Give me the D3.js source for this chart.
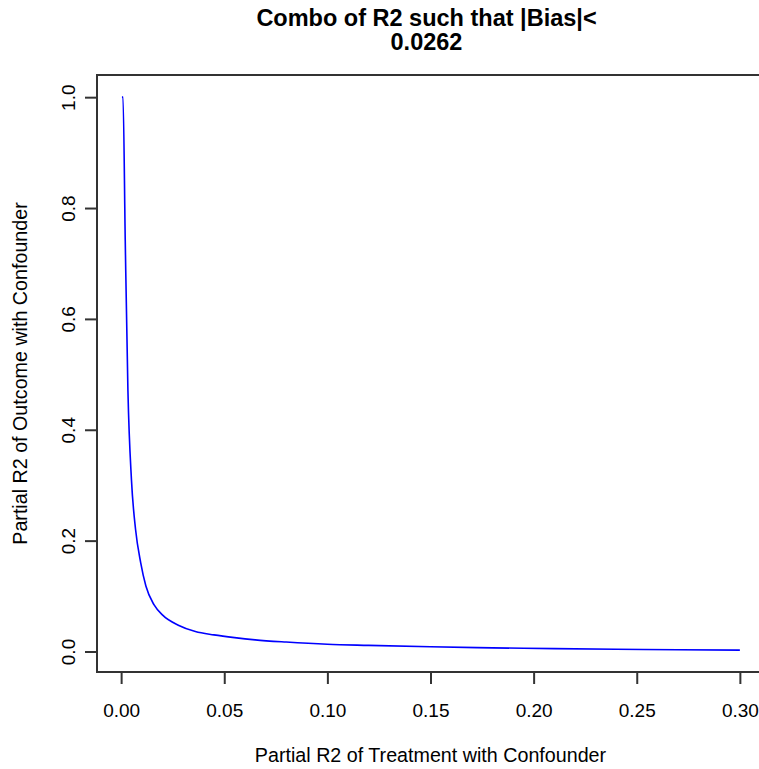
<!DOCTYPE html>
<html>
<head>
<meta charset="utf-8">
<script src="https://cdn.jsdelivr.net/npm/d3@7"></script>
<style>
  body { margin: 0; background: #fff; }
  svg { display: block; font-family: "Liberation Sans", Arial, Helvetica, sans-serif; }
</style>
</head>
<body>
<div id="chart"></div>
<script>
// values
const r2Treatment = [0.0004, 0.0009, 0.002, 0.0033, 0.005, 0.007, 0.0095, 0.012, 0.016, 0.02, 0.028,
    0.036, 0.045, 0.055, 0.065, 0.08, 0.10, 0.12, 0.15, 0.18, 0.21, 0.24, 0.27, 0.30];
const r2Outcome = [1.0, 1.0, 0.74, 0.47, 0.31, 0.22, 0.16, 0.118, 0.084, 0.066, 0.047,
    0.036, 0.030, 0.025, 0.021, 0.017, 0.013, 0.011, 0.0085, 0.0066, 0.0051, 0.0040, 0.0031, 0.0024];
const xTicks = [0.00, 0.05, 0.10, 0.15, 0.20, 0.25, 0.30];
const yTicks = [0.0, 0.2, 0.4, 0.6, 0.8, 1.0];
const titleLines = ["Combo of R2 such that |Bias|<", "0.0262"];
const xLabel = "Partial R2 of Treatment with Confounder";
const yLabel = "Partial R2 of Outcome with Confounder";

const width = 759, height = 769;
const box = { left: 97, right: 764, top: 75, bottom: 672 };

const x = d3.scaleLinear().domain([-0.0117, 0.3117]).range([box.left, box.right]);
const y = d3.scaleLinear().domain([-0.037, 1.04]).range([box.bottom, box.top]);

const svg = d3.select("#chart").append("svg")
    .attr("width", width)
    .attr("height", height);

// title, two lines
svg.append("g")
    .selectAll("text")
    .data(titleLines)
    .join("text")
    .attr("x", (box.left + box.right) / 2 - 4)
    .attr("y", (d, i) => 26 + i * 24)
    .attr("text-anchor", "middle")
    .attr("font-weight", "bold")
    .attr("font-size", 23.5)
    .attr("fill", "#000")
    .text(d => d);

// the curve
const data = r2Treatment.map((v, i) => ({ x: v, y: r2Outcome[i] }));
const line = d3.line()
    .x(d => x(d.x))
    .y(d => y(d.y))
    .curve(d3.curveMonotoneX);

svg.append("path")
    .datum(data)
    .attr("fill", "none")
    .attr("stroke", "#0000ff")
    .attr("stroke-width", 1.6)
    .attr("d", line);

// x axis
svg.append("g")
    .attr("transform", `translate(0,${box.bottom})`)
    .call(d3.axisBottom(x).tickValues(xTicks).tickFormat(d3.format(".2f")).tickSize(12).tickPadding(20))
    .call(g => g.select(".domain").remove())
    .call(g => g.selectAll(".tick line").attr("stroke", "#333").attr("stroke-width", 2))
    .call(g => g.selectAll(".tick text")
        .attr("font-size", 19)
        .attr("font-family", "Liberation Sans, Arial, sans-serif")
        .attr("fill", "#000"));

// y axis, labels rotated like base R
svg.append("g")
    .attr("transform", `translate(${box.left},0)`)
    .call(d3.axisLeft(y).tickValues(yTicks).tickFormat(d3.format(".1f")).tickSize(12))
    .call(g => g.select(".domain").remove())
    .call(g => g.selectAll(".tick line").attr("stroke", "#333").attr("stroke-width", 2))
    .call(g => g.selectAll(".tick text")
        .attr("transform", "rotate(-90)")
        .attr("x", 0)
        .attr("y", -22)
        .attr("dy", 0)
        .attr("text-anchor", "middle")
        .attr("font-size", 19)
        .attr("font-family", "Liberation Sans, Arial, sans-serif")
        .attr("fill", "#000"));

// plot box
svg.append("rect")
    .attr("x", box.left)
    .attr("y", box.top)
    .attr("width", box.right - box.left)
    .attr("height", box.bottom - box.top)
    .attr("fill", "none")
    .attr("stroke", "#333")
    .attr("stroke-width", 2);

// axis titles
svg.append("text")
    .attr("x", (box.left + box.right) / 2)
    .attr("y", 762)
    .attr("text-anchor", "middle")
    .attr("font-size", 19.7)
    .attr("fill", "#000")
    .text(xLabel);

svg.append("text")
    .attr("transform", `translate(27,${(box.top + box.bottom) / 2}) rotate(-90)`)
    .attr("text-anchor", "middle")
    .attr("font-size", 19.7)
    .attr("fill", "#000")
    .text(yLabel);
</script>
</body>
</html>
